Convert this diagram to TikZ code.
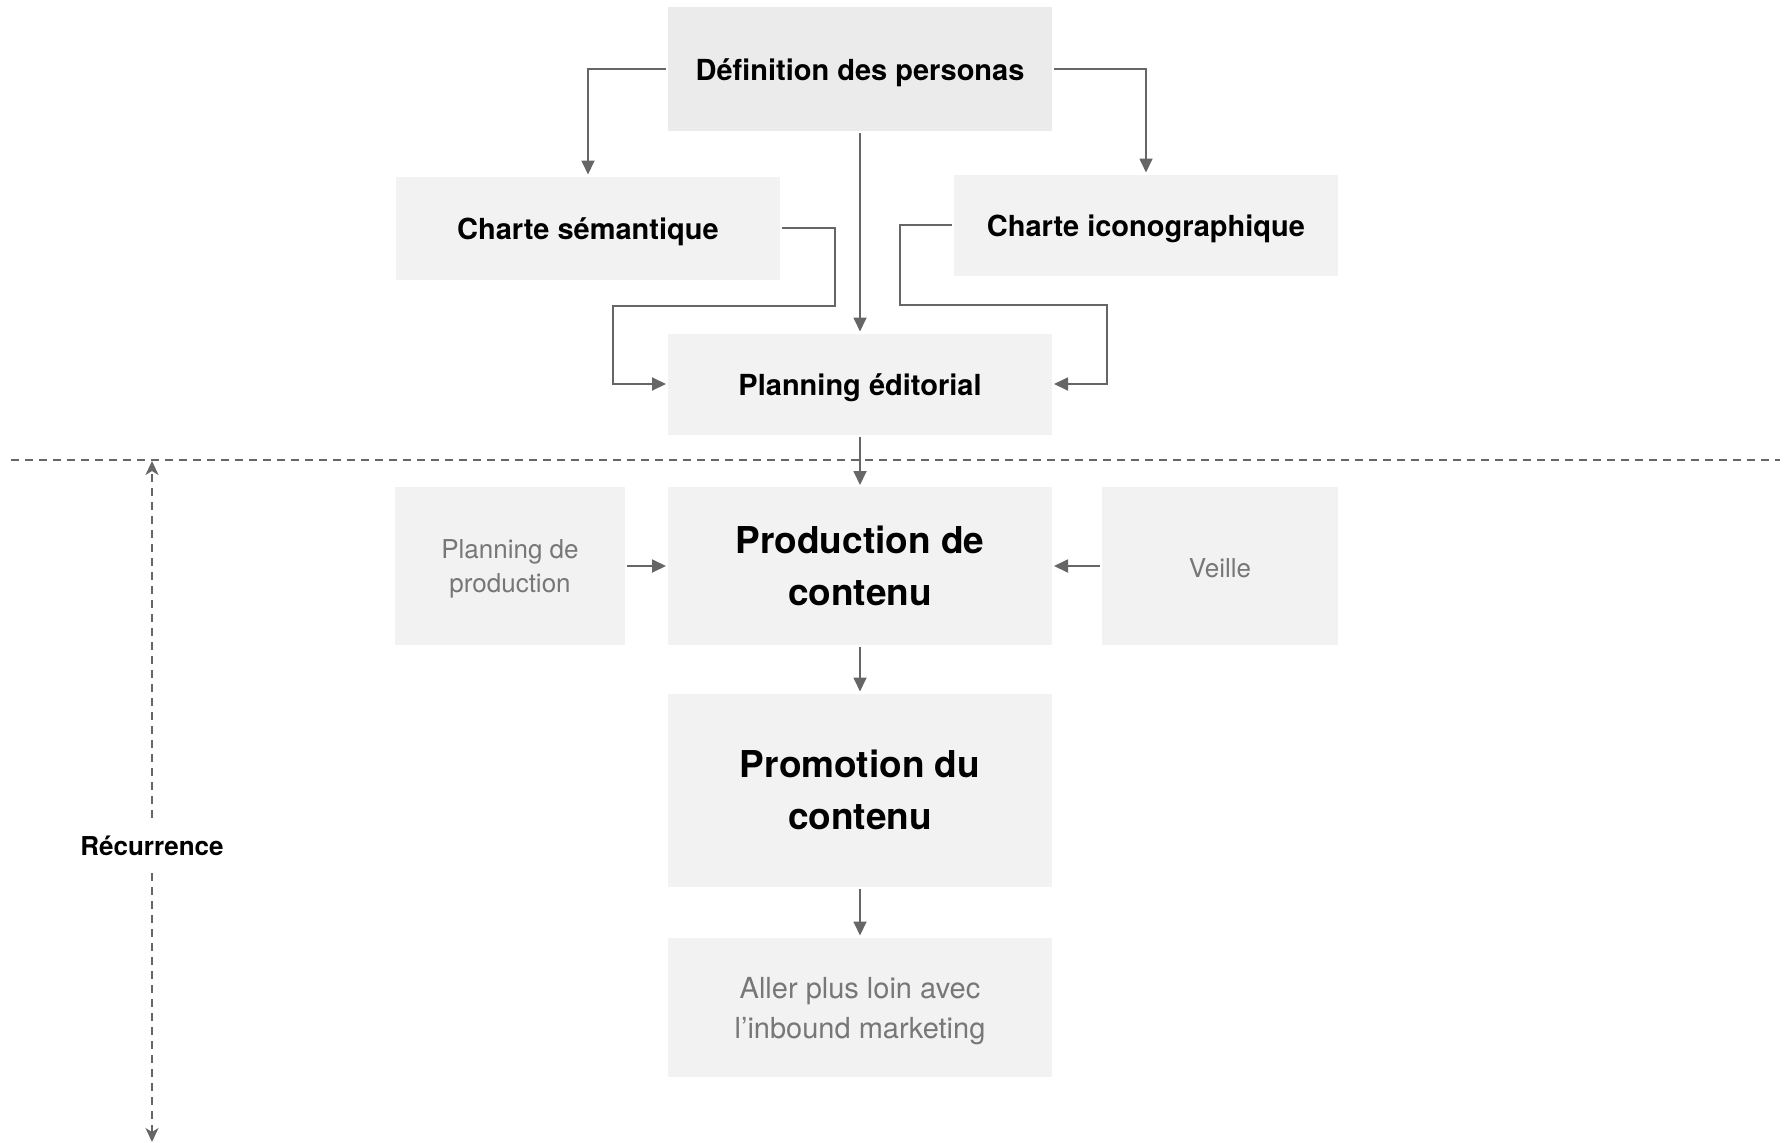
\documentclass[tikz,border=0pt]{standalone}
\usepackage{fontspec}
\setmainfont{TeX Gyre Heros}
\usetikzlibrary{arrows.meta}
\definecolor{boxgrey}{HTML}{F2F2F2}
\definecolor{topgrey}{HTML}{EBEBEB}
\definecolor{linegrey}{HTML}{666666}
\definecolor{textgrey}{HTML}{777777}

\begin{document}
\begin{tikzpicture}[x=1pt,y=-1pt,
    box/.style={fill=boxgrey,inner sep=0pt,outer sep=2pt,align=center,minimum width=384pt},
    mainlabel/.style={font=\fontsize{29}{35}\selectfont\bfseries,text height=29.5pt,text depth=6pt},
    biglabel/.style={font=\fontsize{37}{52}\selectfont\bfseries},
    minorlabel/.style={text=textgrey,font=\fontsize{26}{34}\selectfont},
    flow/.style={draw=linegrey,line width=1.8pt,-{Triangle[length=14pt,width=13pt]}},
    recur/.style={draw=linegrey,line width=1.8pt,dash pattern=on 8pt off 6pt,-{Stealth[length=14pt,width=13pt,inset=4pt]}}]
    \useasboundingbox (0,0) rectangle (1791,1143);

    % Top part: personas and charts
    \node[box,mainlabel,fill=topgrey,minimum height=124pt] (def) at (860,69) {Définition des personas};
    \node[box,mainlabel,minimum height=103pt] (sem) at (588,228) {Charte sémantique};
    \node[box,mainlabel,minimum height=101pt] (ico) at (1146,225) {Charte iconographique};
    \node[box,mainlabel,minimum height=101pt] (edit) at (860,384) {Planning éditorial};

    % Recurring part
    \node[box,biglabel,minimum height=158pt] (prod) at (860,566) {Production de\\contenu};
    \node[box,minorlabel,minimum width=230pt,minimum height=158pt] (plan) at (510,566) {\rule{0pt}{25.5pt}Planning de\\production};
    \node[box,minorlabel,text height=24pt,minimum width=236pt,minimum height=158pt] (veille) at (1220,566) {Veille};
    \node[box,biglabel,minimum height=193pt] (promo) at (860,790) {Promotion du\\contenu};
    \node[box,font=\fontsize{29}{40}\selectfont,text=textgrey,minimum height=139pt] (aller) at (860,1007) {\rule{0pt}{30pt}Aller plus loin avec\\l’inbound marketing};

    % Connectors
    \draw[flow] (def.west) -| (sem.north);
    \draw[flow] (def.east) -| (ico.north);
    \draw[flow] (def.south) -- (edit.north);
    \draw[flow] (sem.east) -| (835,306) -- (613,306) |- (edit.west);
    \draw[flow] (ico.west) -| (900,305) -- (1107,305) |- (edit.east);
    \draw[flow] (edit.south) -- (prod.north);
    \draw[flow] (plan.east) -- (prod.west);
    \draw[flow] (veille.west) -- (prod.east);
    \draw[flow] (prod.south) -- (promo.north);
    \draw[flow] (promo.south) -- (aller.north);

    % Separation line
    \draw[draw=linegrey,line width=1.6pt,dash pattern=on 8pt off 6pt] (11,460) -- (1780,460);

    % Recurrence
    \node[font=\fontsize{26}{30}\selectfont\bfseries,inner sep=0pt,minimum height=55pt] (rec) at (152,845.5) {Récurrence};
    \coordinate (rectop) at (152,461);
    \coordinate (recbot) at (152,1142);
    \draw[recur] (rec.north) -- (rectop);
    \draw[recur] (rec.south) -- (recbot);
\end{tikzpicture}
\end{document}
